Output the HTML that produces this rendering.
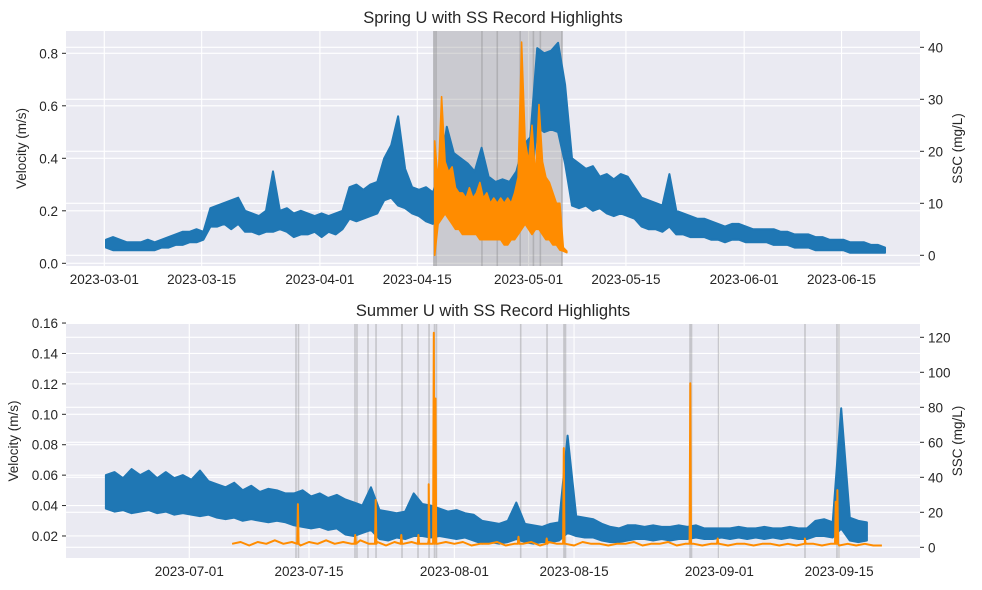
<!DOCTYPE html>
<html><head><meta charset="utf-8"><style>
html,body{margin:0;padding:0;background:#fff;}
svg{display:block;font-family:"Liberation Sans",Arial,sans-serif;}
</style></head><body>
<svg id="chart" width="982" height="590" viewBox="0 0 982 590" xmlns="http://www.w3.org/2000/svg">
<defs>
<clipPath id="clipTop"><rect x="66" y="31" width="854" height="235"/></clipPath>
<clipPath id="clipBot"><rect x="66" y="324" width="854" height="234"/></clipPath>
</defs>
<g id="top"></g>
<g id="bot"></g>
</svg>
<script>
// ---- Spring data (day index from 2023-03-01) ----
const springVelLo = [.06,.05,.05,.05,.05,.05,.05,.05,.06,.06, .07,.07,.08,.08,.09, .14,.14,.15,.13,.15,
 .12,.12,.11,.12,.12,.13,.12,.10,.11,.11,.12,.10,.12,.11,.13, .17,.16,.17,.18,.19, .24,.25,.22,.21, .19,.18,.16,.15,
 .22,.24,.27,.26,.25, .24,.23,.22,.23,.22,.23, .22,.25,.28, .52,.50,.51,.50, .38, .22,.21,.22,.20,.21,
 .19,.18,.19,.18,.17, .14,.13,.13,.12,.14, .11,.11,.10,.10,.10,.09,.09, .08,.09,.09,.08,.08,.08,.08,.07,.07,
 .07,.06,.06,.06,.05,.05,.05,.05,.05,.04,.04,.04,.04,.04,.04];
const springVelHi = [.09,.10,.09,.08,.08,.08,.09,.08,.09,.10, .11,.12,.12,.13,.12, .21,.22,.23,.24,.25,
 .20,.19,.18,.20,.35,.20,.21,.19,.20,.19,.18,.19,.18,.19,.20, .29,.30,.28,.30,.31, .40,.45,.56,.36, .29,.28,.29,.27,
 .34,.52,.42,.40,.38, .35,.44,.33,.31,.32,.31, .35,.45,.48, .82,.80,.81,.84, .68, .40,.38,.36,.37,.33,
 .34,.32,.34,.33,.29, .25,.24,.23,.22,.34, .20,.19,.18,.17,.17,.16,.15, .14,.15,.15,.14,.13,.13,.13,.13,.12,
 .12,.11,.11,.11,.10,.10,.09,.09,.09,.08,.08,.08,.07,.07,.06];
const springSscStart = 47.5;
const springSscLo = [0,6,7,8,7,6,5,5,4,4,4,4,4,3,3,3,3,3,3,3,2,2,3,3,4,5,6,5,4,5,5,4,3,3,2,2,1,0.8,0.5];
const springSscHi = [22,14,30.5,18,16,17,13,12,12,11,13,11,12,14,11,12,10,11,10,11,10,11,10,12,15,41,22,18,25,15,29,18,15,14,12,10,10,1.5,0.8];
const springShade = [47.3, 65.9];
const springLines = [47.4, 47.7, 54.3, 56.5, 59.8, 61.7, 62.7, 65.8];
const springTickDays = [0, 14, 31, 45, 61, 75, 92, 106];
const springTickLabels = ["2023-03-01","2023-03-15","2023-04-01","2023-04-15","2023-05-01","2023-05-15","2023-06-01","2023-06-15"];
const springVelTicks = [0.0, 0.2, 0.4, 0.6, 0.8];
const springSscTicks = [0, 10, 20, 30, 40];

// ---- Summer data (day index from 2023-07-01) ----
const summerVelStart = -10;
const summerVelLo = [.038,.036,.037,.035,.036,.037,.035,.036,.034,.035,.034,.033,.034,
 .032,.031,.032,.030,.031,.030,.029,.030,.029, .027,.026,.025,.026,.024,.025, .021,.020,.022,.024,
 .018,.017,.019,.018,.020, .020,.019,.020,.019,.018,.019,.017, .015,.016,.015,.016,.018, .016,.015,.016,.016,.017,
 .022, .020,.019,.019,.017,.016,.016,.017, .018,.018,.017,.018,.017,.018,.018,
 .019,.018,.018,.019,.018,.019,.018,.019,.018,.019,.018,.019,.018,.018, .020,.020,.019, .025, .017,.016,.017];
const summerVelHi = [.060,.062,.058,.064,.060,.063,.058,.062,.058,.060,.057,.063,.056,
 .054,.052,.055,.050,.053,.049,.051,.050,.048, .048,.050,.046,.048,.045,.047, .044,.042,.040,.052,
 .037,.036,.035,.036,.048, .041,.040,.038,.036,.037,.035,.034, .030,.029,.028,.030,.042, .028,.027,.026,.028,.029,
 .086, .033,.032,.031,.028,.026,.025,.027, .027,.026,.027,.026,.026,.027,.026,
 .027,.025,.025,.025,.025,.026,.025,.025,.026,.025,.025,.026,.025,.025, .030,.031,.029, .104, .032,.030,.029];
const summerSscStart = 5;
const summerSscBase = [2,3,1,3,2,4,2,3,1,3,2,4,2,3,2,4,2,3,1,3,2,3,2,4,2,3,2,3,1,2,
 2,3,1,2,2,3,1,3,2,2,1,3,2,2,1,2,2,3,1,2,2,3,1,2,2,1,2,2,1,2,2,1,2,2,1,2,1,2,2,1,2,1,2,1,2,1,1];
const summerSpikeDays = [12.7,19.4,21.8,24.8,26.8,28.0,28.6,28.8,38.5,41.8,43.8,58.6,61.8,72.0,75.6,75.8];
const summerSpikeVals = [24.7,7,27,7,7,36,122.6,85,6,5,56.7,93.7,5,5,26,32.7];
const summerLines = [12.48,12.77,19.38,19.61,20.9,21.84,24.88,26.75,28.04,28.68,28.91,38.76,41.84,43.82,44.0,58.56,58.74,61.9,72.01,75.75,75.99];
const summerTickDays = [0, 14, 31, 45, 62, 76];
const summerTickLabels = ["2023-07-01","2023-07-15","2023-08-01","2023-08-15","2023-09-01","2023-09-15"];
const summerVelTicks = [0.02,0.04,0.06,0.08,0.10,0.12,0.14,0.16];
const summerSscTicks = [0,20,40,60,80,100,120];

const NS = "http://www.w3.org/2000/svg";
function mk(parent, tag, attrs, text) {
  const e = document.createElementNS(NS, tag);
  for (const k in attrs) e.setAttribute(k, attrs[k]);
  if (text !== undefined) e.textContent = text;
  parent.appendChild(e);
  return e;
}

function bandPoints(xs, his, los, xf, yf) {
  const up = [], dn = [];
  for (let i = 0; i < xs.length; i++) {
    up.push(xf(xs[i]).toFixed(1) + "," + yf(his[i]).toFixed(1));
    dn.push(xf(xs[i]).toFixed(1) + "," + yf(los[i]).toFixed(1));
  }
  return up.concat(dn.reverse()).join(" ");
}

function drawPanel(g, cfg) {
  const L = 66, R = 920, T = cfg.top, B = cfg.bottom;
  const bg = mk(g, "rect", {x:L, y:T, width:R-L, height:B-T, fill:"#eaeaf2"});
  
  
  cfg.xTicks.forEach((d, i) => {
    const x = cfg.x(d);
    const gl = mk(g, "line", {x1:x, x2:x, y1:T, y2:B, stroke:"#fff", "stroke-width":1.1});
    
    
    const t = mk(g, "text", {x:x, y:B+18, "text-anchor":"middle", "font-size":"13.5", fill:"#262626"}, cfg.xLabels[i]);
    
    
  });
  cfg.vTicks.forEach(v => {
    const y = cfg.yV(v);
    const gl = mk(g, "line", {x1:L, x2:R, y1:y, y2:y, stroke:"#fff", "stroke-width":1.1});
    
    
    mk(g, "line", {x1:L-4, x2:L, y1:y, y2:y, stroke:"#262626", "stroke-width":1});
    const t = mk(g, "text", {x:L-8, y:y+5, "text-anchor":"end", "font-size":"13.5", fill:"#262626"}, v.toFixed(cfg.vDec));
    
    
  });
  cfg.sTicks.forEach(s => {
    const y = cfg.yS(s);
    const gl = mk(g, "line", {x1:L, x2:R, y1:y, y2:y, stroke:"#fff", "stroke-width":1.1});
    
    
    mk(g, "line", {x1:R, x2:R+4, y1:y, y2:y, stroke:"#262626", "stroke-width":1});
    const t = mk(g, "text", {x:R+8, y:y+5, "text-anchor":"start", "font-size":"13.5", fill:"#262626"}, String(s));
    
    
  });
  const data = mk(g, "g", {"clip-path":cfg.clip});
  
  
  if (cfg.shade) {
    const x1 = cfg.x(cfg.shade[0]), x2 = cfg.x(cfg.shade[1]);
    const r = mk(data, "rect", {x:x1, y:T, width:x2-x1, height:B-T, fill:"rgba(128,128,128,0.3)"});
    
    
  }
  cfg.lines.forEach(d => {
    const x = cfg.x(d);
    const l = mk(data, "line", {x1:x, x2:x, y1:T, y2:B, stroke:"rgba(128,128,128,0.35)", "stroke-width":1.6});
    
    
  });
  // velocity band (hi at d, lo at d)
  const xs = cfg.vHi.map((_, i) => cfg.vStart + i + 0.25);
  const vl = mk(data, "polygon", {points:bandPoints(xs, cfg.vHi, cfg.vLo, cfg.x, cfg.yV), fill:"#1f77b4", stroke:"#1f77b4", "stroke-width":2, "stroke-linejoin":"round"});
  
  
  cfg.drawSsc(data);
  const tt = mk(g, "text", {x:(L+R)/2, y:T-8, "text-anchor":"middle", "font-size":"16.5", fill:"#262626"}, cfg.title);
  
  
  const cy = (T+B)/2;
  const yl = mk(g, "text", {x:cfg.ylx, y:cy, "text-anchor":"middle", "font-size":"13.5", fill:"#262626", transform:`rotate(-90 ${cfg.ylx} ${cy})`}, "Velocity (m/s)");
  
  
  const yr = mk(g, "text", {x:962, y:cy, "text-anchor":"middle", "font-size":"13.5", fill:"#262626", transform:`rotate(-90 962 ${cy})`}, "SSC (mg/L)");
  
  
}

const xTop = d => 104.3 + 6.955*d, yTopS = s => 255.3 - 5.2*s;
drawPanel(document.getElementById("top"), {
  top:31, bottom:266, clip:"url(#clipTop)", title:"Spring U with SS Record Highlights", ylx:26,
  x: xTop, yV: v => 263.3 - 262.5*v, yS: yTopS,
  xTicks: springTickDays, xLabels: springTickLabels, vTicks: springVelTicks, vDec:1, sTicks: springSscTicks,
  shade: springShade, lines: springLines, vStart:0, vLo: springVelLo, vHi: springVelHi,
  drawSsc: (data) => {
    const xs = springSscLo.map((_, i) => springSscStart + i*0.5);
    const band = mk(data, "polygon", {points:bandPoints(xs, springSscHi, springSscLo, xTop, yTopS), fill:"#ff8c00", stroke:"#ff8c00", "stroke-width":1.6, "stroke-linejoin":"round"});
    
    
  }
});

const xBot = d => 189.3 + 8.55*d, yBotS = s => 547.3 - 1.75*s;
drawPanel(document.getElementById("bot"), {
  top:324, bottom:558, clip:"url(#clipBot)", title:"Summer U with SS Record Highlights", ylx:18,
  x: xBot, yV: v => 566.4 - 1521*v, yS: yBotS,
  xTicks: summerTickDays, xLabels: summerTickLabels, vTicks: summerVelTicks, vDec:2, sTicks: summerSscTicks,
  shade: null, lines: summerLines, vStart: summerVelStart, vLo: summerVelLo, vHi: summerVelHi,
  drawSsc: (data) => {
    const pts = [];
    for (let i = 0; i < summerSscBase.length; i++) pts.push([summerSscStart + i, summerSscBase[i]]);
    for (let j = 0; j < summerSpikeDays.length; j++) {
      pts.push([summerSpikeDays[j] - 0.08, 2]);
      pts.push([summerSpikeDays[j], summerSpikeVals[j]]);
      pts.push([summerSpikeDays[j] + 0.08, 2]);
    }
    pts.sort((a, b) => a[0] - b[0]);
    const l = mk(data, "polyline", {points:pts.map(q => xBot(q[0]).toFixed(1) + "," + yBotS(q[1]).toFixed(1)).join(" "), fill:"none", stroke:"#ff8c00", "stroke-width":2, "stroke-linejoin":"round"});
    
    
  }
});
</script>
</body></html>
